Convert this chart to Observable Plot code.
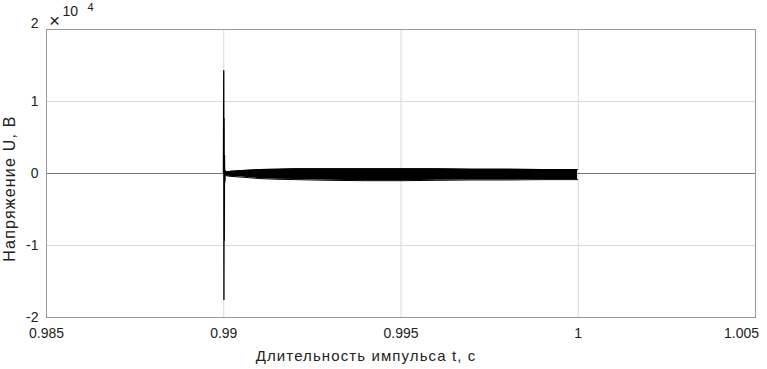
<!DOCTYPE html>
<html><head><meta charset="utf-8">
<script src="https://cdn.jsdelivr.net/npm/d3@7"></script>
<script src="https://cdn.jsdelivr.net/npm/@observablehq/plot@0.6"></script>
<style>body{margin:0;background:#fff;font-family:"Liberation Sans",Arial,sans-serif}</style>
</head><body><div id="chart"></div>
<script>
// Spike at the pulse start (t, U in volts)
const spikeT = [0.98999, 0.990000, 0.990005, 0.990010, 0.990015, 0.990020, 0.990030, 0.990045, 0.99006];
const spikeU = [0, 14300, -17500, 7700, -9300, 2500, -1200, 400, 0];
// Envelope of the dense oscillation band (upper / lower), volts
const bandT  = [0.99006, 0.9902, 0.9905, 0.9910, 0.9915, 0.9920, 0.9930, 0.9940, 0.9950, 0.9960, 0.9970, 0.9980, 0.9990, 0.99998];
const bandHi = [200, 300, 400, 550, 600, 650, 650, 650, 650, 650, 600, 600, 550, 550];
const bandLo = [-300, -400, -500, -700, -800, -850, -950, -1000, -1000, -950, -900, -900, -850, -850];
const xTicks = [0.985, 0.99, 0.995, 1, 1.005];
const xTickLabels = ["0.985", "0.99", "0.995", "1", "1.005"];
const yTicks = [-20000, -10000, 0, 10000];
const yTickLabels = ["-2", "-1", "0", "1"];
const xLabel = "Длительность импульса t, с";
const yLabel = "Напряжение U, В";

const spike = spikeT.map((t, i) => ({t, u: spikeU[i]}));
const band = bandT.map((t, i) => ({t, hi: bandHi[i], lo: bandLo[i]}));
const fmtX = d => xTickLabels[xTicks.indexOf(d)];

const chart = Plot.plot({
  width: 767, height: 369,
  marginLeft: 46, marginRight: 12, marginTop: 29, marginBottom: 52,
  style: {fontFamily: "Liberation Sans, Arial, sans-serif", fontSize: "14px", color: "#222", background: "#fff"},
  x: {domain: [0.985, 1.005]},
  y: {domain: [-20000, 20000]},
  marks: [
    Plot.gridX(xTicks, {stroke: "#d9d9d9", strokeOpacity: 1}),
    Plot.gridY([-20000, -10000, 0, 10000, 20000], {stroke: "#d9d9d9", strokeOpacity: 1}),
    Plot.ruleY([0], {stroke: "#777"}),
    Plot.areaY(band, {x: "t", y1: "lo", y2: "hi", fill: "#000"}),
    Plot.line(band, {x: "t", y: "hi", stroke: "#000", strokeWidth: 1}),
    Plot.line(band, {x: "t", y: "lo", stroke: "#000", strokeWidth: 1}),
    Plot.line(spike, {x: "t", y: "u", stroke: "#000", strokeWidth: 1.3}),
    Plot.frame({stroke: "#999"}),
    Plot.axisX(xTicks.slice(0, 4), {tickSize: 0, tickPadding: 11, tickFormat: fmtX, label: null, fontSize: 14}),
    Plot.axisX(xTicks.slice(4), {tickSize: 0, tickPadding: 11, tickFormat: fmtX, label: null, fontSize: 14, dx: -14}),
    Plot.axisY(yTicks, {tickSize: 0, tickPadding: 8, tickFormat: (d, i) => yTickLabels[i], label: null, fontSize: 14}),
    Plot.text(["2"], {frameAnchor: "top-left", dx: -8, dy: -6, lineAnchor: "middle", textAnchor: "end", fontSize: 14, fill: "#222"}),
    Plot.text(["×"], {frameAnchor: "top-left", dx: 8, dy: -9, lineAnchor: "middle", textAnchor: "middle", fontSize: 19, fill: "#222"}),
    Plot.text(["10"], {frameAnchor: "top-left", dx: 16, dy: -18, lineAnchor: "middle", textAnchor: "start", fontSize: 14, fill: "#222"}),
    Plot.text(["4"], {frameAnchor: "top-left", dx: 41, dy: -22, lineAnchor: "middle", textAnchor: "start", fontSize: 11, fill: "#222"}),
    Plot.text([xLabel], {frameAnchor: "bottom", dx: -35, dy: 43, textAnchor: "middle", fontSize: 15, fill: "#222"}),
    Plot.text([yLabel], {frameAnchor: "left", dx: -37, dy: 15, rotate: -90, textAnchor: "middle", fontSize: 16, fill: "#222"})
  ]
});
d3.select(chart).selectAll("text").filter(function() { return this.textContent === xLabel; }).style("letter-spacing", "1.1px");
d3.select(chart).selectAll("text").filter(function() { return this.textContent === yLabel; }).style("letter-spacing", "1.2px");
document.getElementById("chart").append(chart);
</script></body></html>
